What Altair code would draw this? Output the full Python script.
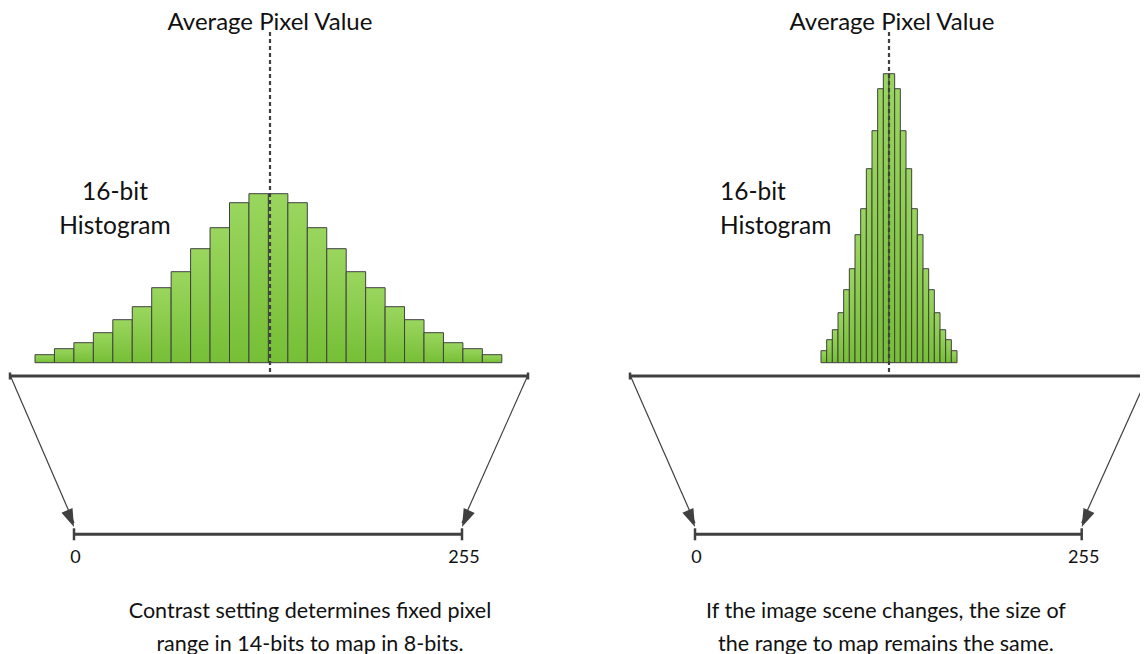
import altair as alt
import pandas as pd
import numpy as np

# ---- values ----
left_counts = [8, 14, 20, 30, 43, 56, 75, 91, 114, 135, 160, 169,
               169, 160, 135, 114, 91, 75, 56, 43, 30, 20, 14, 8]
right_counts = [12, 23, 33, 50, 73, 94, 128, 154, 194, 232, 274, 289,
                289, 274, 232, 194, 154, 128, 94, 73, 50, 33, 23, 12]

title_text = "Average Pixel Value"
hist_label = ["16-bit", "Histogram"]
range_labels = ["0", "255"]
left_caption = ["Contrast setting determines fixed pixel",
                "range in 14-bits to map in 8-bits."]
right_caption = ["If the image scene changes, the size of",
                 "the range to map remains the same."]

# ---- layout (diagram coordinates) ----
W, H = 1132, 646
XDOM = [0, W]
YDOM = [-291.3, 354.7]
DARK = "#404040"
FONT = "Lato"

panels = [
    dict(hist_x0=27, bin_w=19.45, mean_x=262, axis=(2, 520), out=(66, 454),
         label_x=107, label_align="center", cap_x=302, title_x=262,
         caption=left_caption),
    dict(hist_x0=813, bin_w=5.667, mean_x=881, axis=(622, 1140.3), out=(687, 1073.7),
         label_x=712, label_align="left", cap_x=878, title_x=884,
         caption=right_caption),
]
counts = [left_counts, right_counts]

AXIS_Y = -13.3
OUT_Y = -171.6
TIP_Y = -164.3

bars, thick, caps, thin, dashed, heads = [], [], [], [], [], []
texts_c, texts_l = [], []
for p, cnt in zip(panels, counts):
    for i, c in enumerate(cnt):
        bars.append(dict(x=p["hist_x0"] + i * p["bin_w"],
                         x2=p["hist_x0"] + (i + 1) * p["bin_w"], y=c, y2=0))
    a0, a1 = p["axis"]
    o0, o1 = p["out"]
    thick.append(dict(x=a0, x2=min(a1, W), y=AXIS_Y, y2=AXIS_Y))
    thick.append(dict(x=o0, x2=o1, y=OUT_Y, y2=OUT_Y))
    for ax in (a0, a1):
        if ax <= W:
            caps.append(dict(x=ax, x2=ax, y=AXIS_Y + 3.5, y2=AXIS_Y - 3.5))
    for ox in (o0, o1):
        caps.append(dict(x=ox, x2=ox, y=OUT_Y + 6, y2=OUT_Y - 6))
    for sx, tx in ((a0, o0), (a1, o1)):
        thin.append(dict(x=sx, x2=tx, y=AXIS_Y + 1, y2=TIP_Y + 4))
        # direction in screen coords: dx = tx-sx, dy = -(TIP_Y-AXIS_Y)
        dx, dy = tx - sx, -(TIP_Y - AXIS_Y)
        theta = (np.degrees(np.arctan2(dx, -dy))) % 360
        heads.append(dict(x=tx, y=TIP_Y, angle=float(theta)))
    dashed.append(dict(x=p["mean_x"], x2=p["mean_x"], y=330.7, y2=-14.3))
    texts_c.append(dict(x=p["title_x"], y=340.2, text=title_text, size=24))
    lab = texts_c if p["label_align"] == "center" else texts_l
    lab.append(dict(x=p["label_x"], y=169.7, text=hist_label[0], size=24.5))
    lab.append(dict(x=p["label_x"], y=135.7, text=hist_label[1], size=24.5))
    texts_c.append(dict(x=o0 + 1.5, y=-195.5, text=range_labels[0], size=18))
    texts_c.append(dict(x=o1 + 2, y=-195.5, text=range_labels[1], size=18))
    texts_c.append(dict(x=p["cap_x"], y=-248.8, text=p["caption"][0], size=21.5))
    texts_c.append(dict(x=p["cap_x"], y=-281.8, text=p["caption"][1], size=21.5))

xs = alt.Scale(domain=XDOM, nice=False, zero=False)
ys = alt.Scale(domain=YDOM, nice=False, zero=False)
X = lambda f="x": alt.X(f"{f}:Q", scale=xs, axis=None)
Y = lambda f="y": alt.Y(f"{f}:Q", scale=ys, axis=None)

grad = alt.Gradient(gradient="linear",
                    stops=[alt.GradientStop(color="#9ad65e", offset=0),
                           alt.GradientStop(color="#76bf36", offset=1)],
                    x1=0, x2=0, y1=0, y2=1)

bar_layer = alt.Chart(pd.DataFrame(bars)).mark_rect(
    color=grad, stroke=DARK, strokeWidth=1).encode(
    x=X(), x2="x2:Q", y=Y(), y2="y2:Q")

def rules(rows, **kw):
    return alt.Chart(pd.DataFrame(rows)).mark_rule(color=DARK, **kw).encode(
        x=X(), x2="x2:Q", y=Y(), y2="y2:Q")

thick_layer = rules(thick, strokeWidth=3)
caps_layer = rules(caps, strokeWidth=2.5)
thin_layer = rules(thin, strokeWidth=1.2)
dash_layer = rules(dashed, strokeWidth=2.2, strokeDash=[4, 3])

head_layer = alt.Chart(pd.DataFrame(heads)).mark_point(
    shape="M0,0L-1,3L1,3Z", size=144, filled=True, color=DARK, opacity=1,
    strokeWidth=0).encode(x=X(), y=Y(), angle=alt.Angle("angle:Q", scale=None))

def text_layer(rows, align):
    return alt.Chart(pd.DataFrame(rows)).mark_text(
        align=align, baseline="middle", font=FONT, color="#111111").encode(
        x=X(), y=Y(), text="text:N", size=alt.Size("size:Q", scale=None))

chart = alt.layer(
    bar_layer, dash_layer, thick_layer, caps_layer, thin_layer, head_layer,
    text_layer(texts_c, "center"), text_layer(texts_l, "left"),
).properties(
    width=W, height=H, padding=0, autosize=alt.AutoSizeParams(type="none")
).configure_view(stroke=None)

chart.save("out.html", embed_options={"renderer": "svg", "actions": False})
